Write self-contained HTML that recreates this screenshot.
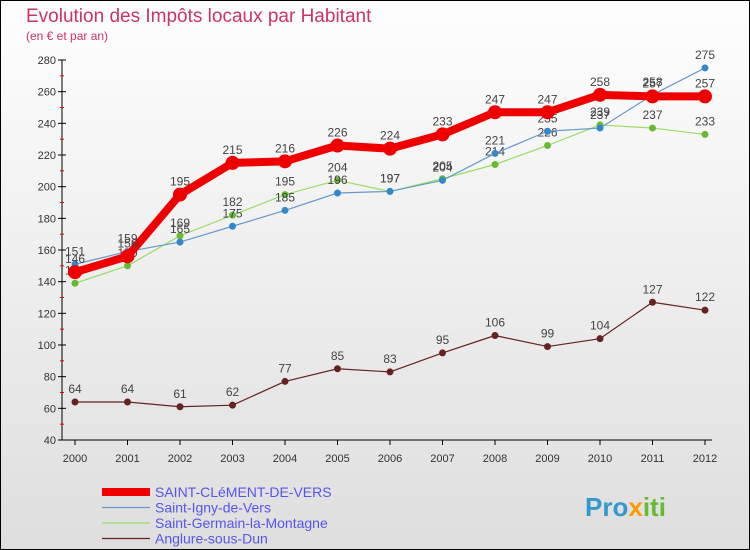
<!DOCTYPE html>
<html><head><meta charset="utf-8"><style>
body{margin:0;width:750px;height:550px;overflow:hidden;font-family:"Liberation Sans",sans-serif}
#c{position:absolute;left:0;top:0}
</style></head><body>
<svg id="c" width="750" height="550" xmlns="http://www.w3.org/2000/svg">
<defs><linearGradient id="bg" x1="0" y1="0" x2="0" y2="1"><stop offset="0" stop-color="#fefefe"/><stop offset="1" stop-color="#dedede"/></linearGradient></defs>
<rect x="0.5" y="0.5" width="749" height="549" fill="url(#bg)" stroke="#000" stroke-width="1"/>
<text x="26" y="22" font-size="19" fill="#cc3366">Evolution des Impôts locaux par Habitant</text>
<text x="26" y="40" font-size="12" fill="#cc3366">(en € et par an)</text>
<g id="axes"></g><g id="series"></g><g id="legend"></g>
<text x="585" y="516" font-size="26" font-weight="bold" fill="#3399cc">Pro<tspan fill="#ff9900">x</tspan><tspan fill="#66bb33">iti</tspan></text>
</svg>
<script>
const years=["2000","2001","2002","2003","2004","2005","2006","2007","2008","2009","2010","2011","2012"];
const yTicks=[40,60,80,100,120,140,160,180,200,220,240,260,280];
const clement=[146,156,195,215,216,226,224,233,247,247,258,257,257];
const igny=[151,159,165,175,185,196,197,204,221,235,237,258,275];
const germain=[139,150,169,182,195,204,197,205,214,226,239,237,233];
const anglure=[64,64,61,62,77,85,83,95,106,99,104,127,122];
const NS="http://www.w3.org/2000/svg";
const X=i=>75+i*52.5, Y=v=>440-(v-40)*380/240;
function mk(tag,attrs,parent){const e=document.createElementNS(NS,tag);for(const k in attrs)e.setAttribute(k,attrs[k]);parent.appendChild(e);return e;}
const ax=document.getElementById('axes');
let yl=mk('line',{x1:62,y1:60,x2:62,y2:440,stroke:'#000'},ax);


let xl=mk('line',{x1:62,y1:440,x2:712,y2:440,stroke:'#000'},ax);


yTicks.forEach(v=>{
 mk('line',{x1:58,y1:Y(v),x2:66,y2:Y(v),stroke:'#000'},ax);
 if(v<280) mk('line',{x1:60,y1:Y(v+10),x2:64,y2:Y(v+10),stroke:'#e00'},ax);
 const t=mk('text',{x:56,y:Y(v)+4,'font-size':11,'text-anchor':'end',fill:'#333'},ax);t.textContent=v;
 
 
});
years.forEach((y,i)=>{
 mk('line',{x1:X(i),y1:440,x2:X(i),y2:445,stroke:'#000'},ax);
 const t=mk('text',{x:X(i),y:462,'font-size':11,'text-anchor':'middle',fill:'#333'},ax);t.textContent=y;
 
 
});
const sg=document.getElementById('series');
const series=[
 {name:'Anglure-sous-Dun',d:anglure,c:'#662222',w:1.2,r:3.5,key:'anglure'},
 {name:'Saint-Germain-la-Montagne',d:germain,c:'#99dd66',dc:'#66bb33',w:1.2,r:3.5,key:'germain'},
 {name:'Saint-Igny-de-Vers',d:igny,c:'#6699cc',dc:'#3388cc',w:1.2,r:3.5,key:'igny'},
 {name:'SAINT-CLéMENT-DE-VERS',d:clement,c:'#ee0000',w:8,r:7,key:'clement'}
];
series.forEach(s=>{
 const g=mk('g',{},sg);
 
 
 mk('polyline',{points:s.d.map((v,i)=>X(i)+','+Y(v)).join(' '),fill:'none',stroke:s.c,'stroke-width':s.w,'stroke-linejoin':'round'},g);
 s.d.forEach((v,i)=>{
  const p=mk('circle',{cx:X(i),cy:Y(v),r:s.r,fill:s.dc||s.c},g);
  
  
  const t=mk('text',{x:X(i),y:Y(v)-9,'font-size':12,'text-anchor':'middle',fill:'#444'},g);t.textContent=v;
  
  
 });
});
const lg=document.getElementById('legend');
[series[3],series[2],series[1],series[0]].forEach((s,k)=>{
 const y=492+k*15.5;
 const g=mk('g',{},lg);
 
 
 mk('line',{x1:102,y1:y,x2:150,y2:y,stroke:s.c,'stroke-width':s.w}, g);
 const t=mk('text',{x:155,y:y+5,'font-size':14,fill:'#5555ee'},g);t.textContent=s.name;
});
</script>
</body></html>
